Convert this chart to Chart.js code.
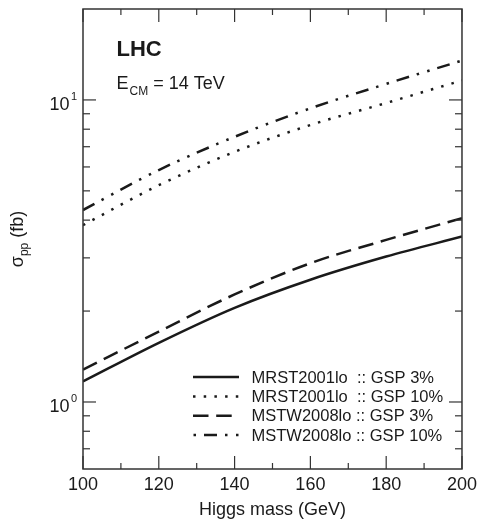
<!DOCTYPE html>
<html lang="en">

<head>
    <meta charset="UTF-8">
    <title>Higgs cross section at the LHC</title>
    <script src="https://cdn.jsdelivr.net/npm/chart.js"></script>
    <style>
        html, body {
            margin: 0;
            padding: 0;
            background: #fff;
        }

        .chart-container {
            width: 482px;
            height: 527px;
        }
    </style>
</head>

<body>
    <div class="chart-container">
        <canvas id="grafico"></canvas>
    </div>

    <script>
        // Higgs mass (GeV)
        const masses = [100, 120, 140, 160, 180, 200];

        // sigma_pp (fb)
        const mrst3 = [1.17, 1.57, 2.05, 2.54, 3.03, 3.53];
        const mrst10 = [3.85, 5.22, 6.73, 8.26, 9.77, 11.6];
        const mstw3 = [1.28, 1.71, 2.27, 2.88, 3.44, 4.06];
        const mstw10 = [4.32, 5.86, 7.55, 9.38, 11.3, 13.5];

        const seriesLabels = [
            'MRST2001lo  :: GSP 3%',
            'MRST2001lo  :: GSP 10%',
            'MSTW2008lo :: GSP 3%',
            'MSTW2008lo :: GSP 10%'
        ];

        const xTicks = [100, 110, 120, 130, 140, 150, 160, 170, 180, 190, 200];
        const xLabels = [100, 120, 140, 160, 180, 200];
        const yDecades = [1, 10];
        const yMinor = [0.7, 0.8, 0.9, 2, 3, 4, 5, 6, 7, 8, 9];

        const ink = '#1a1a1a';
        const fontName = '"Liberation Sans", Arial, sans-serif';

        const ctx = document.getElementById('grafico').getContext('2d');

        function serie(label, data, dash) {
            return {
                label: label,
                data: data,
                borderColor: ink,
                borderWidth: 2.5,
                borderDash: dash,
                borderCapStyle: 'butt',
                cubicInterpolationMode: 'monotone',
                pointRadius: 0,
                fill: false
            };
        }

        const chartData = {
            labels: masses,
            datasets: [
                serie(seriesLabels[0], mrst3, []),
                serie(seriesLabels[1], mrst10, [2.5, 8.2]),
                serie(seriesLabels[2], mstw3, [15.5, 7.7]),
                serie(seriesLabels[3], mstw10, [13, 8, 2.5, 8.5, 2.5, 8])
            ]
        };

        function linea(c, x1, y1, x2, y2) {
            c.beginPath();
            c.moveTo(x1, y1);
            c.lineTo(x2, y2);
            c.stroke();
        }

        // frame, inward ticks, log labels, y title, annotations and legend
        const decor = {
            id: 'decor',
            afterDraw(chart) {
                const c = chart.ctx;
                const a = chart.chartArea;
                const x = chart.scales.x;
                const y = chart.scales.y;
                c.save();

                c.strokeStyle = '#333';
                c.lineWidth = 1.5;
                c.setLineDash([]);
                c.strokeRect(a.left, a.top, a.right - a.left, a.bottom - a.top);

                c.lineWidth = 1.2;
                xTicks.forEach(v => {
                    const px = x.getPixelForValue(v);
                    const len = xLabels.includes(v) ? 13 : 6;
                    linea(c, px, a.bottom, px, a.bottom - len);
                    linea(c, px, a.top, px, a.top + len);
                });
                yDecades.forEach(v => {
                    const py = y.getPixelForValue(v);
                    linea(c, a.left, py, a.left + 13, py);
                    linea(c, a.right, py, a.right - 13, py);
                });
                yMinor.forEach(v => {
                    const py = y.getPixelForValue(v);
                    linea(c, a.left, py, a.left + 7, py);
                    linea(c, a.right, py, a.right - 7, py);
                });

                // 10^0, 10^1
                c.fillStyle = ink;
                c.textBaseline = 'alphabetic';
                yDecades.forEach((v, i) => {
                    const py = y.getPixelForValue(v);
                    c.font = '18px ' + fontName;
                    c.textAlign = 'right';
                    c.fillText('10', 69.5, py + 10.5);
                    c.font = '11px ' + fontName;
                    c.textAlign = 'left';
                    c.fillText(String(i), 71, py + 0.5);
                });

                // sigma_pp (fb)
                c.save();
                c.translate(23, (a.top + a.bottom) / 2);
                c.rotate(-Math.PI / 2);
                c.font = '18px ' + fontName;
                const wSig = c.measureText('σ').width;
                const wRest = c.measureText(' (fb)').width;
                c.font = '12px ' + fontName;
                const wSub = c.measureText('pp').width;
                let sx = -(wSig + wSub + wRest) / 2;
                c.textAlign = 'left';
                c.font = '18px ' + fontName;
                c.fillText('σ', sx, 0);
                sx += wSig;
                c.font = '12px ' + fontName;
                c.fillText('pp', sx, 5);
                sx += wSub;
                c.font = '18px ' + fontName;
                c.fillText(' (fb)', sx, 0);
                c.restore();

                // LHC / E_CM = 14 TeV
                c.textAlign = 'left';
                c.font = 'bold 22px ' + fontName;
                c.fillText('LHC', 116.5, 55.5);
                let ex = 116.5;
                c.font = '18px ' + fontName;
                c.fillText('E', ex, 89);
                ex += c.measureText('E').width + 1;
                c.font = '12px ' + fontName;
                c.fillText('CM', ex, 95);
                ex += c.measureText('CM').width;
                c.font = '18px ' + fontName;
                c.fillText(' = 14 TeV', ex, 89);

                // legend
                const rows = [377, 396.5, 415.8, 435];
                chart.data.datasets.forEach((ds, i) => {
                    c.strokeStyle = ink;
                    c.lineWidth = 2.5;
                    c.lineCap = 'butt';
                    c.setLineDash(ds.borderDash);
                    c.lineDashOffset = i === 3 ? 31.5 : 0;
                    linea(c, 193, rows[i], 239, rows[i]);
                    c.setLineDash([]);
                    c.font = '16.5px ' + fontName;
                    c.textBaseline = 'middle';
                    c.fillText(ds.label, 251.5, rows[i] + 1);
                });

                c.restore();
            }
        };

        const grafico = new Chart(ctx, {
            type: 'line',
            data: chartData,
            plugins: [decor],
            options: {
                animation: false,
                responsive: true,
                maintainAspectRatio: false,
                layout: {
                    padding: { left: 83, right: 15, top: 9, bottom: 0 }
                },
                plugins: {
                    legend: { display: false },
                    tooltip: { enabled: false }
                },
                scales: {
                    x: {
                        type: 'linear',
                        min: 100,
                        max: 200,
                        afterFit: (s) => { s.height = 58; },
                        grid: { display: false, drawTicks: false },
                        border: { display: false },
                        ticks: {
                            stepSize: 20,
                            autoSkip: false,
                            maxRotation: 0,
                            padding: 5,
                            color: ink,
                            font: { family: fontName, size: 18 }
                        },
                        title: {
                            display: true,
                            text: 'Higgs mass (GeV)',
                            color: ink,
                            font: { family: fontName, size: 18 },
                            padding: { top: 0, bottom: 6 }
                        }
                    },
                    y: {
                        type: 'logarithmic',
                        display: false,
                        min: 0.6,
                        max: 20
                    }
                }
            }
        });
    </script>

</body>

</html>
